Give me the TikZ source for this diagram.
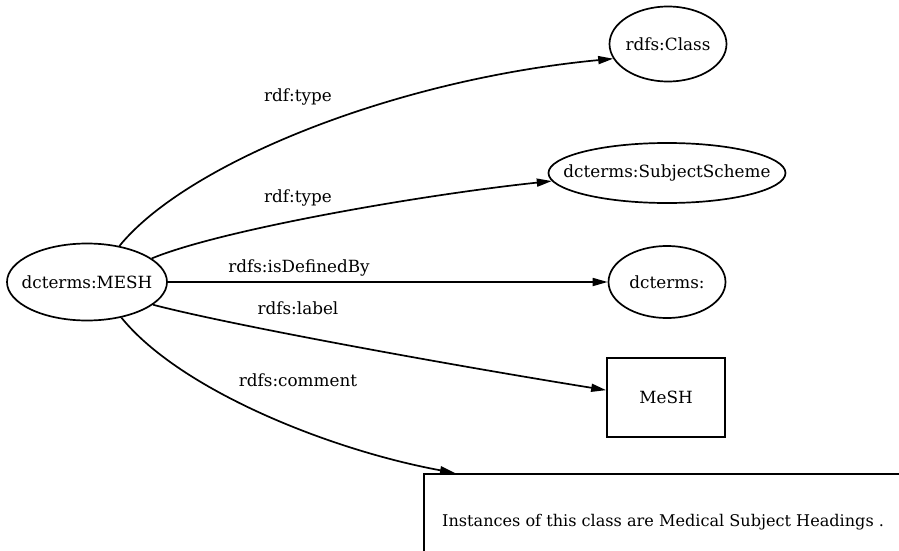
\documentclass[tikz,border=0pt]{standalone}
\usepackage{fontspec}
\setmainfont{DejaVu Serif}
\usetikzlibrary{shapes.geometric,arrows.meta,calc}
\newcommand{\ztext}[1]{\makebox[0pt]{#1}}
\begin{document}
\begin{tikzpicture}[x=1pt,y=-1pt,
  every node/.style={font=\fontsize{16.8}{20}\selectfont},
  ell/.style={draw,ellipse,line width=1.7pt,inner sep=0pt},
  boxn/.style={draw,rectangle,line width=1.7pt,inner sep=0pt},
  conn/.style={line width=1.7pt,-{Triangle[length=15pt,width=8pt]}},
  lbl/.style={inner sep=0pt}]
\clip (0,0) rectangle (899,551);
\node[ell,minimum width=160,minimum height=77] (mesh) at (87,282) {\ztext{dcterms:MESH}};
\node[ell,minimum width=117,minimum height=75] (class) at (668,44) {\ztext{rdfs:Class}};
\node[ell,minimum width=237,minimum height=60] (scheme) at (667,173) {\ztext{dcterms:SubjectScheme}};
\node[ell,minimum width=117,minimum height=72] (dct) at (667,282) {\ztext{dcterms:}};
\node[boxn,minimum width=118,minimum height=79] (box) at (666,397.5) {MeSH};
\node[boxn,anchor=north west,minimum width=520,minimum height=120] (cbox) at (423,473) {};
\node[lbl,anchor=west,font=\fontsize{16.1}{20}\selectfont] (ctext) at (442,522) {Instances of this class are Medical Subject Headings .};
\coordinate (ctip) at ($(cbox.north west)+(32,0)$);
\draw[conn] (mesh.48) .. controls (185,165) and (390,80) .. (class.195);
\draw[conn] (mesh.20) .. controls (220,230) and (420,195) .. (scheme.184);
\draw[conn] (mesh.east) -- (dct.west);
\draw[conn] (mesh.-19) .. controls (230,325) and (450,365) .. (box.173);
\draw[conn] (mesh.-46) .. controls (180,390) and (330,450) .. (ctip);
\node[lbl] (l1) at (298,97) {rdf:type};
\node[lbl] (l2) at (298,198) {rdf:type};
\node[lbl] (l3) at (299,268) {rdfs:isDefinedBy};
\node[lbl] (l4) at (298,308) {rdfs:label};
\node[lbl] (l5) at (298,380) {rdfs:comment};
\end{tikzpicture}
\end{document}
